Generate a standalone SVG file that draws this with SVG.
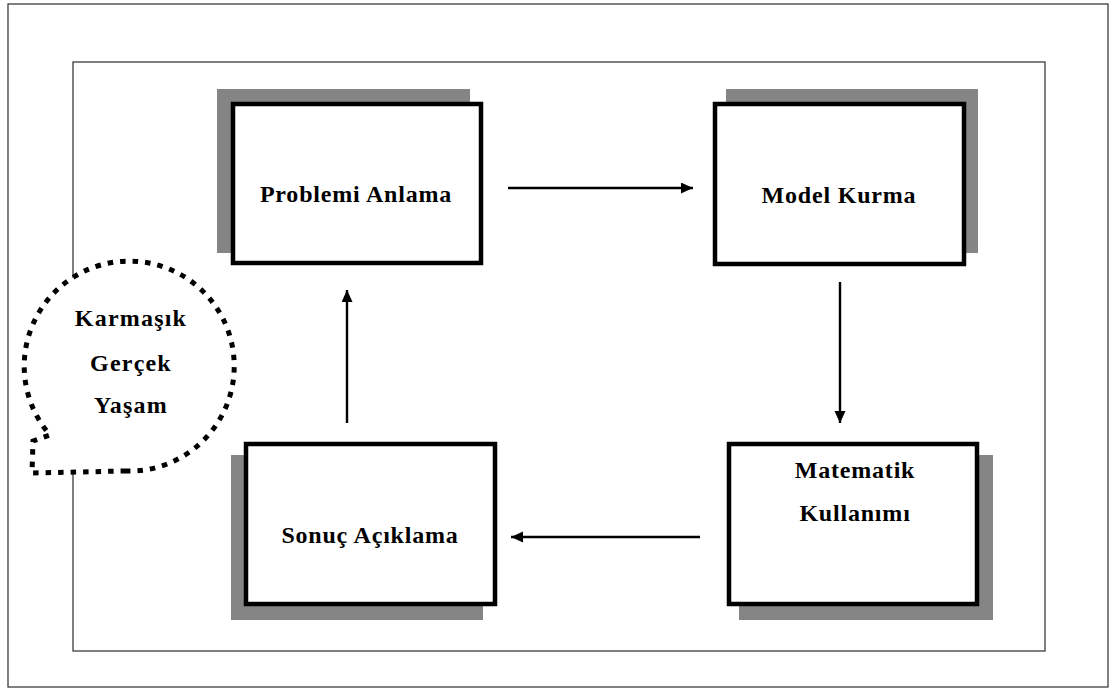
<svg xmlns="http://www.w3.org/2000/svg" width="1118" height="691" viewBox="0 0 1118 691">
  <style>
    .frame { fill: none; stroke: #3c3c3c; stroke-width: 1.3; }
    .shadow { fill: #858585; }
    .box { fill: #ffffff; stroke: #000000; stroke-width: 4.5; }
    .label { font-family: "Liberation Serif", "Times New Roman", serif; font-weight: bold; font-size: 24px; fill: #000000; text-anchor: middle; letter-spacing: 0.8px; }
    .bubble-text { letter-spacing: 1.2px; }
    .conn { fill: none; stroke: #000000; stroke-width: 2.4; }
    .bubble { fill: #ffffff; stroke: #000000; stroke-width: 5; stroke-dasharray: 5.5 7; }
  </style>
  <defs>
    <marker id="arrow" markerUnits="userSpaceOnUse" markerWidth="14" markerHeight="12" refX="12" refY="5.5" orient="auto">
      <path d="M0,0 L12,5.5 L0,11 Z" fill="#000000"/>
    </marker>
  </defs>

  <rect width="1118" height="691" fill="#ffffff"/>

  <!-- page frames -->
  <rect class="frame" x="8" y="4" width="1100" height="683"/>
  <rect class="frame" x="73" y="62" width="972" height="589"/>

  <!-- connectors -->
  <g id="connectors">
    <path class="conn" d="M508,188 L693,188" marker-end="url(#arrow)"/>
    <path class="conn" d="M840,282 L840,423" marker-end="url(#arrow)"/>
    <path class="conn" d="M700,537 L511,537" marker-end="url(#arrow)"/>
    <path class="conn" d="M347,423 L347,290" marker-end="url(#arrow)"/>
  </g>

  <g id="problemi-anlama">
    <rect class="shadow" x="217" y="89" width="253" height="164"/>
    <rect class="box" x="233" y="104" width="248" height="159"/>
    <text class="label" x="356" y="202">Problemi Anlama</text>
  </g>

  <g id="model-kurma">
    <rect class="shadow" x="726" y="89" width="252" height="164"/>
    <rect class="box" x="715" y="104" width="249" height="160"/>
    <text class="label" x="839" y="203">Model Kurma</text>
  </g>

  <g id="matematik-kullanimi">
    <rect class="shadow" x="739" y="455" width="254" height="165"/>
    <rect class="box" x="729" y="444" width="248" height="160"/>
    <text class="label" x="855" y="478">Matematik</text>
    <text class="label" x="855" y="521">Kullanımı</text>
  </g>

  <g id="sonuc-aciklama">
    <rect class="shadow" x="231" y="455" width="252" height="165"/>
    <rect class="box" x="246" y="444" width="249" height="160"/>
    <text class="label" x="370" y="543">Sonuç Açıklama</text>
  </g>

  <g id="karmasik-gercek-yasam">
    <path class="bubble" d="M125,471 A105,105 0 1 0 50,435 L33,441 L32,473 Z"/>
    <text class="label bubble-text" x="131" y="326">Karmaşık</text>
    <text class="label bubble-text" x="131" y="371">Gerçek</text>
    <text class="label bubble-text" x="131" y="413">Yaşam</text>
  </g>
</svg>
